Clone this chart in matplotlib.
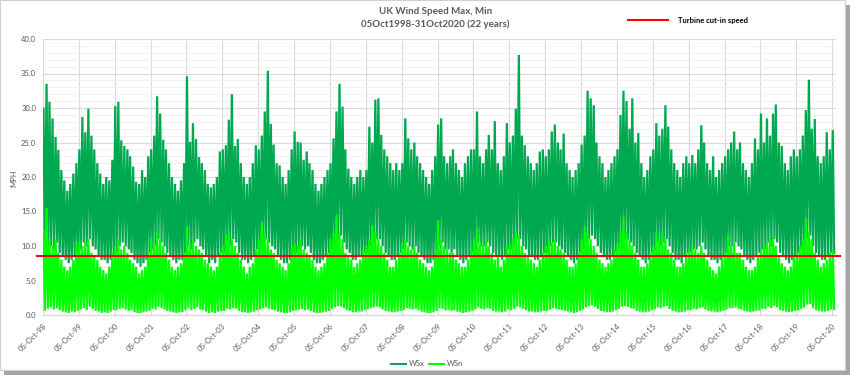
import numpy as np
import matplotlib
matplotlib.use('Agg')
import matplotlib.pyplot as plt
import matplotlib.dates as mdates
from matplotlib.lines import Line2D
from matplotlib.patches import Rectangle

plt.rcParams['font.family'] = ['Lato', 'DejaVu Sans']

# monthly highs / lows of the daily series, Oct 1998 .. Oct 2020 (mph)
months = np.arange('1998-10', '2020-11', dtype='datetime64[M]')

wsx_peak = [
    29.9, 33.5, 30.9, 28.5, 25.8, 23.9, 21.0, 19.5, 18.0, 19.0, 20.5, 22.0,
    24.0, 28.7, 26.5, 29.9, 26.0, 24.0, 22.0, 20.5, 19.0, 20.0, 19.5, 22.5,
    30.3, 30.9, 25.3, 24.5, 24.0, 23.0, 21.5, 19.3, 19.0, 21.0, 20.0, 23.0,
    24.0, 26.0, 31.7, 29.2, 25.4, 24.0, 22.0, 20.0, 19.0, 18.0, 19.5, 22.0,
    34.6, 25.1, 27.8, 25.5, 22.9, 22.0, 21.0, 19.0, 18.5, 19.0, 20.0, 23.7,
    24.0, 24.6, 28.3, 32.0, 24.5, 25.5, 22.0, 20.0, 19.0, 20.0, 22.0, 24.6,
    24.0, 26.0, 29.5, 35.4, 27.7, 24.7, 22.0, 21.7, 20.0, 19.0, 21.0, 24.0,
    26.6, 25.1, 25.0, 22.5, 23.7, 22.0, 21.0, 19.0, 18.0, 19.0, 20.0, 21.0,
    22.0, 25.6, 29.5, 33.5, 30.2, 24.0, 21.2, 20.0, 19.0, 20.0, 21.0, 20.0,
    21.0, 27.3, 25.0, 31.2, 31.4, 26.1, 24.0, 23.0, 22.0, 21.0, 22.0, 21.0,
    22.0, 28.5, 25.6, 24.0, 25.0, 23.0, 22.0, 21.0, 20.0, 19.0, 21.0, 23.0,
    27.6, 28.5, 23.0, 22.0, 23.0, 24.0, 22.0, 21.0, 20.0, 22.0, 23.0, 24.0,
    24.0, 29.5, 23.0, 22.0, 24.0, 26.1, 24.0, 28.1, 22.0, 21.0, 23.0, 27.8,
    25.0, 26.0, 29.9, 37.7, 26.0, 24.6, 23.0, 22.0, 21.0, 22.0, 23.7, 24.0,
    23.0, 24.0, 26.6, 27.6, 25.0, 24.0, 26.3, 22.0, 21.0, 20.0, 21.0, 22.0,
    24.7, 26.0, 32.5, 31.4, 30.4, 25.0, 23.0, 22.0, 20.0, 21.0, 22.0, 23.0,
    24.0, 29.0, 32.5, 31.0, 27.0, 31.4, 25.0, 26.4, 22.0, 20.0, 21.0, 23.0,
    24.0, 27.8, 26.0, 27.0, 30.4, 27.3, 24.0, 22.0, 21.0, 20.0, 22.0, 23.0,
    22.0, 23.2, 22.0, 24.0, 27.5, 25.0, 22.0, 21.0, 23.0, 20.0, 21.0, 22.0,
    23.0, 24.0, 25.0, 26.6, 24.0, 25.0, 22.0, 21.0, 20.0, 22.0, 25.6, 24.0,
    29.2, 25.0, 28.5, 26.0, 29.2, 30.5, 25.0, 24.5, 22.0, 21.0, 23.0, 24.0,
    23.0, 24.0, 26.0, 29.7, 34.1, 27.0, 28.4, 23.0, 22.0, 23.0, 26.5, 24.0,
    26.8,
]
wsx_low = [
    8.0, 9.5, 10.0, 9.5, 10.5, 9.0, 8.5, 8.0, 7.5, 8.0, 8.5, 9.0,
    9.5, 10.5, 10.0, 11.0, 10.0, 9.5, 8.5, 8.0, 8.0, 7.5, 8.0, 8.5,
    9.0, 10.0, 10.5, 10.0, 9.5, 9.0, 8.0, 7.5, 7.0, 7.5, 8.0, 9.0,
    9.5, 10.0, 11.0, 10.5, 10.0, 9.0, 8.5, 8.0, 7.5, 8.0, 8.0, 9.0,
    10.0, 9.5, 10.5, 11.0, 10.0, 9.5, 8.5, 7.5, 8.0, 7.5, 8.5, 9.0,
    9.0, 10.5, 10.0, 11.0, 10.5, 9.0, 8.0, 8.0, 7.5, 8.0, 8.5, 9.5,
    9.5, 10.0, 11.0, 10.5, 10.0, 9.5, 8.5, 8.0, 7.5, 7.5, 8.0, 9.0,
    9.0, 9.5, 10.0, 9.5, 10.0, 9.0, 8.0, 7.5, 7.5, 8.0, 8.5, 9.0,
    9.5, 10.5, 11.0, 11.5, 10.5, 9.5, 9.0, 8.0, 8.0, 8.5, 8.5, 9.0,
    9.0, 10.0, 10.5, 11.0, 11.0, 10.0, 9.0, 8.5, 8.0, 8.0, 8.5, 9.0,
    9.5, 10.5, 10.0, 9.5, 10.0, 9.0, 8.5, 8.0, 7.5, 7.5, 8.0, 9.0,
    10.0, 10.5, 9.5, 9.5, 9.0, 9.5, 8.5, 8.0, 7.5, 8.0, 8.5, 9.0,
    9.5, 10.5, 10.0, 10.0, 10.5, 10.0, 9.0, 8.5, 8.5, 8.0, 8.5, 9.5,
    9.5, 10.0, 11.0, 11.0, 10.0, 9.5, 8.5, 8.5, 8.0, 8.0, 8.5, 9.0,
    9.0, 10.0, 10.5, 10.5, 10.0, 9.5, 9.0, 8.5, 8.0, 7.5, 8.0, 9.0,
    9.5, 10.5, 11.0, 11.5, 11.0, 10.0, 9.0, 8.5, 8.0, 8.0, 8.5, 9.0,
    9.5, 10.5, 11.0, 11.0, 10.5, 10.0, 9.0, 8.5, 8.0, 7.5, 8.0, 9.0,
    9.0, 10.5, 10.0, 10.5, 11.0, 10.0, 9.0, 8.0, 8.0, 7.5, 8.5, 9.0,
    9.0, 9.5, 9.5, 10.0, 10.5, 9.5, 8.5, 8.0, 8.0, 7.5, 8.0, 8.5,
    9.0, 10.0, 10.0, 10.5, 10.0, 9.5, 8.5, 8.0, 7.5, 8.0, 8.5, 9.0,
    9.5, 9.5, 10.5, 10.0, 11.0, 10.5, 9.0, 8.5, 8.0, 7.5, 8.0, 8.5,
    9.0, 9.5, 10.0, 11.0, 11.5, 10.0, 9.0, 8.5, 8.0, 8.0, 8.5, 9.0,
    9.0,
]
wsn_peak = [
    12.1, 15.5, 11.0, 10.0, 11.0, 9.0, 8.0, 7.0, 6.5, 7.0, 8.0, 10.6,
    10.6, 10.0, 10.6, 11.0, 9.0, 8.5, 8.0, 7.0, 6.5, 6.0, 7.0, 9.0,
    10.0, 11.0, 9.5, 10.0, 9.0, 8.0, 7.5, 7.0, 6.0, 6.5, 7.0, 9.0,
    11.2, 10.0, 12.0, 11.0, 10.0, 9.0, 8.0, 7.0, 6.5, 7.0, 7.5, 9.0,
    12.8, 10.0, 11.0, 10.0, 9.5, 9.0, 8.0, 7.5, 7.0, 6.5, 7.0, 9.0,
    10.0, 11.6, 12.0, 11.0, 10.0, 9.0, 8.0, 7.0, 6.0, 7.0, 7.5, 9.5,
    11.0, 13.5, 12.0, 11.0, 9.5, 9.0, 8.0, 7.5, 7.0, 6.5, 7.5, 10.0,
    10.5, 10.0, 11.0, 9.5, 9.0, 8.5, 8.0, 7.0, 6.5, 7.0, 7.5, 9.0,
    11.0, 12.0, 14.5, 12.0, 11.0, 9.0, 8.5, 8.0, 7.0, 7.5, 8.0, 9.5,
    10.0, 11.0, 13.0, 12.0, 11.0, 10.0, 9.0, 8.0, 7.0, 7.0, 8.0, 9.0,
    10.5, 11.0, 10.0, 9.5, 10.0, 9.0, 8.0, 7.5, 7.0, 6.5, 7.0, 9.0,
    13.7, 11.0, 10.0, 9.5, 9.0, 9.0, 8.0, 7.5, 7.0, 7.0, 8.0, 9.5,
    11.0, 12.6, 10.5, 10.0, 11.0, 10.0, 9.0, 8.0, 8.5, 7.0, 8.0, 10.0,
    10.5, 11.0, 12.0, 11.5, 10.0, 9.0, 8.5, 8.0, 7.5, 7.0, 8.0, 9.0,
    10.0, 11.0, 10.5, 11.0, 10.0, 9.5, 9.0, 8.0, 7.0, 7.0, 7.5, 9.0,
    11.0, 12.8, 12.0, 11.0, 10.0, 9.0, 8.0, 7.5, 7.0, 7.5, 8.0, 9.5,
    10.5, 12.0, 14.2, 12.0, 11.0, 10.0, 9.0, 8.0, 7.0, 7.0, 7.5, 9.0,
    10.0, 12.0, 11.0, 12.0, 11.0, 9.5, 9.0, 8.0, 7.0, 7.0, 7.5, 9.0,
    9.5, 10.0, 9.5, 9.0, 10.0, 9.0, 8.0, 7.0, 6.5, 6.0, 7.0, 8.5,
    9.0, 11.6, 10.0, 10.5, 9.0, 9.0, 8.0, 7.0, 6.5, 6.5, 7.0, 8.5,
    9.5, 10.0, 10.5, 11.0, 11.5, 10.0, 8.5, 7.5, 7.0, 6.5, 7.0, 8.5,
    9.0, 10.0, 11.0, 14.0, 12.0, 11.0, 9.0, 8.0, 7.0, 7.5, 8.0, 9.0,
    9.5,
]
wsn_low = [
    0.6, 0.9, 1.1, 0.8, 1.0, 0.7, 0.5, 0.4, 0.3, 0.5, 0.4, 0.6,
    0.8, 1.0, 0.7, 1.2, 0.9, 0.6, 0.5, 0.3, 0.4, 0.3, 0.5, 0.7,
    0.7, 0.9, 1.0, 0.8, 0.6, 0.7, 0.4, 0.3, 0.3, 0.4, 0.5, 0.6,
    0.9, 0.8, 1.2, 1.0, 0.8, 0.6, 0.5, 0.4, 0.3, 0.4, 0.4, 0.7,
    1.0, 0.7, 0.9, 1.1, 0.8, 0.7, 0.5, 0.3, 0.4, 0.3, 0.5, 0.6,
    0.6, 0.9, 0.8, 1.0, 0.9, 0.6, 0.4, 0.4, 0.3, 0.4, 0.5, 0.7,
    0.8, 1.0, 1.1, 0.9, 0.8, 0.7, 0.5, 0.4, 0.3, 0.3, 0.4, 0.6,
    0.7, 0.8, 0.9, 0.7, 0.8, 0.6, 0.4, 0.3, 0.3, 0.4, 0.5, 0.6,
    0.9, 1.1, 1.3, 1.2, 1.0, 0.7, 0.6, 0.4, 0.4, 0.5, 0.5, 0.7,
    0.8, 1.0, 1.1, 1.2, 1.1, 0.8, 0.6, 0.5, 0.4, 0.4, 0.5, 0.6,
    0.7, 1.0, 0.9, 0.8, 0.9, 0.7, 0.5, 0.4, 0.3, 0.3, 0.4, 0.6,
    1.0, 0.9, 0.7, 0.7, 0.6, 0.7, 0.5, 0.4, 0.3, 0.4, 0.5, 0.6,
    0.8, 1.1, 0.9, 0.8, 1.0, 0.9, 0.6, 0.5, 0.5, 0.4, 0.5, 0.8,
    0.7, 0.9, 1.2, 1.1, 0.9, 0.7, 0.5, 0.5, 0.4, 0.4, 0.5, 0.6,
    0.6, 0.8, 1.0, 0.9, 0.8, 0.7, 0.6, 0.5, 0.4, 0.3, 0.4, 0.6,
    0.8, 1.1, 1.3, 1.4, 1.2, 0.9, 0.6, 0.5, 0.4, 0.4, 0.5, 0.7,
    0.9, 1.2, 1.3, 1.2, 1.0, 0.9, 0.6, 0.5, 0.4, 0.4, 0.5, 0.7,
    0.8, 1.1, 1.0, 1.2, 1.3, 0.9, 0.6, 0.5, 0.4, 0.4, 0.5, 0.7,
    0.7, 0.9, 0.8, 1.0, 1.1, 0.8, 0.6, 0.5, 0.5, 0.4, 0.5, 0.6,
    0.8, 1.0, 1.0, 1.1, 0.9, 0.8, 0.6, 0.5, 0.4, 0.5, 0.6, 0.7,
    0.9, 0.9, 1.2, 1.0, 1.3, 1.1, 0.7, 0.6, 0.5, 0.4, 0.5, 0.6,
    0.7, 0.9, 1.1, 1.5, 1.6, 1.0, 0.7, 0.6, 0.5, 0.5, 0.6, 0.8,
    0.9,
]
cut_in = 8.5
year_ticks = np.array(['%d-10-05' % y for y in range(1998, 2021)], dtype='datetime64[D]')

# each month: high then low -> zig-zag line like the dense daily trace
day0 = months.astype('datetime64[D]')
x = np.empty(2 * len(months), dtype='datetime64[D]')
x[0::2] = day0 + 9
x[1::2] = day0 + 23
wsx = np.ravel(np.column_stack([wsx_peak, wsx_low]))
wsn = np.ravel(np.column_stack([wsn_peak, wsn_low]))

grey = '#595959'
fig = plt.figure(figsize=(8.5, 3.75), dpi=100)
ax = fig.add_axes([43 / 850, 1 - 315 / 375, 793 / 850, 276 / 375])

l1, = ax.plot(x, wsx, color='#00A850', lw=1.6, label='WSx', solid_joinstyle='miter')
l2, = ax.plot(x, wsn, color='#00FF00', lw=1.6, label='WSn', solid_joinstyle='miter')
red = ax.axhline(cut_in, xmin=-0.008, xmax=1.005, color='#FF0000', lw=1.5,
                 clip_on=False, zorder=5)

ax.set_ylim(0, 40)
ax.set_xlim(np.datetime64('1998-10-05'), np.datetime64('2020-11-12'))
ax.set_yticks(np.arange(0, 41, 5))
ax.set_yticks(np.arange(0, 41, 1), minor=True)
ax.yaxis.set_major_formatter(plt.FormatStrFormatter('%.1f'))
ax.set_xticks(year_ticks)
ax.xaxis.set_major_formatter(mdates.DateFormatter('%d-%b-%y'))
ax.set_axisbelow(True)
ax.grid(which='major', color='#D9D9D9', lw=0.8)
ax.grid(which='minor', axis='y', color='#EFEFEF', lw=0.6)
for s in ['top', 'right', 'left']:
    ax.spines[s].set_visible(False)
ax.spines['bottom'].set_color('#D9D9D9')
ax.tick_params(which='both', length=0, colors=grey, labelsize=5.5)
ax.tick_params(axis='y', pad=5)
ax.tick_params(axis='x', pad=5)
for t in ax.get_xticklabels():
    t.set_rotation(45)
    t.set_ha('right')
    t.set_rotation_mode('anchor')

fig.text(14 / 850, 1 - 178 / 375, 'MPH', rotation=90, ha='center', va='center',
         fontsize=5.5, color=grey)
fig.text(0.512, 1 - 12 / 375, 'UK Wind Speed Max, Min', ha='center', va='center',
         fontsize=7, color=grey, fontweight='bold')
fig.text(0.512, 1 - 24 / 375, '05Oct1998-31Oct2020 (22 years)', ha='center', va='center',
         fontsize=7, color=grey, fontweight='bold')

fig.legend(handles=[Line2D([], [], color='#FF0000', lw=1.5)], labels=['Turbine cut-in speed'],
           loc='center left', bbox_to_anchor=(628 / 850, 1 - 20 / 375), frameon=False,
           prop={'weight': 'bold', 'size': 5.5}, handlelength=5.2, handletextpad=1.3,
           borderpad=0, borderaxespad=0)
leg = fig.legend(handles=[l1, l2], labels=['WSx', 'WSn'], loc='center',
                 bbox_to_anchor=(427 / 850, 1 - 364 / 375), ncol=2, frameon=False,
                 fontsize=5.5, handlelength=2.0, handletextpad=0.3, columnspacing=0.6,
                 borderpad=0, borderaxespad=0)
for t in leg.get_texts():
    t.set_color(grey)
for h in leg.get_lines():
    h.set_linewidth(1.5)

# chart frame with a little shadow
fig.patches.append(Rectangle((0, 5 / 375), 1 - 5 / 850, 1 - 5 / 375, transform=fig.transFigure,
                             fill=False, edgecolor='#D0D0D0', lw=0.8))
fig.patches.append(Rectangle((4 / 850, 0), 1 - 4 / 850, 4 / 375, transform=fig.transFigure,
                             facecolor='#A6A6A6', edgecolor='none'))
fig.patches.append(Rectangle((1 - 4 / 850, 0), 4 / 850, 1 - 5 / 375, transform=fig.transFigure,
                             facecolor='#A6A6A6', edgecolor='none'))

fig.savefig('out.png', dpi=100)
